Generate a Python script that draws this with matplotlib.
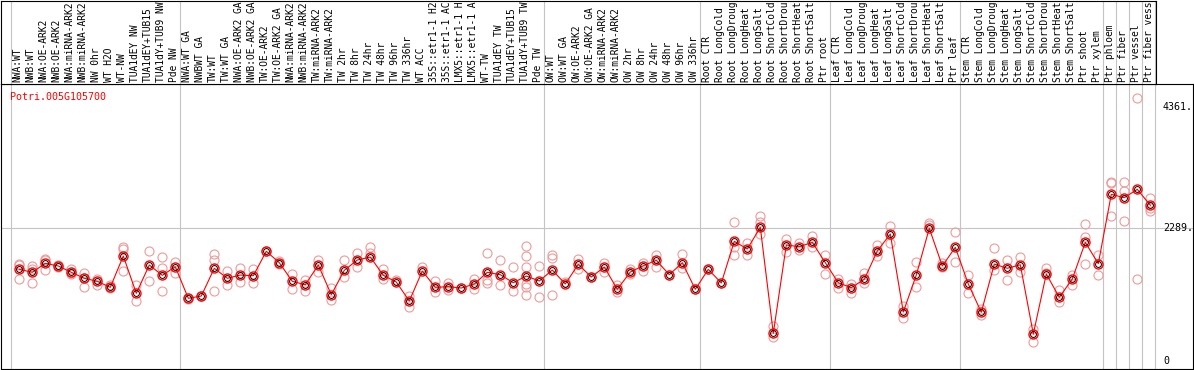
import matplotlib
matplotlib.use("Agg")
import matplotlib.pyplot as plt
from matplotlib import transforms

# column labels as the reference shows them (cut to 14 characters)
g_nw = ["NWA:WT", "NWB:WT", "NWA:OE-ARK2", "NWB:OE-ARK2", "NWA:miRNA-ARK2",
        "NWB:miRNA-ARK2", "NW 0hr", "WT H2O", "WT-NW", "TUA1dEY NW",
        "TUA1dEY+TUB15", "TUA1dY+TUB9 NW", "Pde NW"]
g_tw = ["NWA:WT GA", "NWBWT GA", "TW:WT", "TW:WT GA", "NWA:OE-ARK2 GA",
        "NWB:OE-ARK2 GA", "TW:OE-ARK2", "TW:OE-ARK2 GA", "NWA:miRNA-ARK2",
        "NWB:miRNA-ARK2", "TW:miRNA-ARK2", "TW:miRNA-ARK2", "TW 2hr",
        "TW 8hr", "TW 24hr", "TW 48hr", "TW 96hr", "TW 336hr", "WT ACC",
        "35S::etr1-1 H2", "35S::etr1-1 AC", "LMX5::etr1-1 H",
        "LMX5::etr1-1 A", "WT-TW", "TUA1dEY TW", "TUA1dEY+TUB15",
        "TUA1dY+TUB9 TW", "Pde TW"]
g_ow = ["OW:WT", "OW:WT GA", "OW:OE-ARK2", "OW:OE-ARK2 GA", "OW:miRNA-ARK2",
        "OW:miRNA-ARK2", "OW 2hr", "OW 8hr", "OW 24hr", "OW 48hr",
        "OW 96hr", "OW 336hr"]
stress = ["CTR", "LongCold", "LongDroug", "LongHeat", "LongSalt",
          "ShortCold", "ShortDrou", "ShortHeat", "ShortSalt"]
g_root = ["Root " + s for s in stress] + ["Ptr root"]
g_leaf = ["Leaf " + s for s in stress] + ["Ptr leaf"]
g_stem = ["Stem " + s for s in stress] + ["Ptr shoot", "Ptr xylem"]
g_ptr = ["Ptr phloem", "Ptr fiber", "Ptr vessel", "Ptr fiber vess"]
groups = [g_nw, g_tw, g_ow, g_root, g_leaf, g_stem] + [[x] for x in g_ptr]
labels = [lab for g in groups for lab in g]

gene = "Potri.005G105700"
tick_vals = [0, 2289, 4361]
tick_text = ["0", "2289.", "4361."]

means = [1575, 1524, 1678, 1632, 1524, 1421, 1369, 1266, 1804, 1163,
         1649, 1472, 1620,
         1077, 1117, 1593, 1421, 1477, 1465, 1885, 1689, 1369, 1311,
         1649, 1139, 1558, 1735, 1787, 1472, 1357, 1031, 1546, 1266,
         1277, 1254, 1323, 1524, 1483, 1345, 1460, 1374, 1563,
         1323, 1661, 1443, 1615, 1232, 1529, 1637, 1730, 1483, 1689,
         1232, 1575,
         1340, 2056, 1924, 2297, 476, 1993, 1964, 2039, 1689, 1345,
         1259, 1404, 1890, 2182, 842, 1477, 2280, 1632, 1953, 1323,
         837, 1666, 1593, 1654, 464, 1495, 1094, 1409, 2039, 1672,
         2864, 2806, 2950, 2675]

reps = [[1666, 1650, 1404], [1637, 1581, 1340], [1752, 1735, 1558],
        [1644, 1620], [1581, 1490, 1505], [1517, 1421, 1266],
        [1409, 1311], [1306, 1249], [1953, 1929, 1546], [1311, 1036],
        [1885, 1374], [1782, 1593, 1197], [1706, 1507],
        [1077, 1070], [1117, 1110], [1838, 1730, 1203], [1546, 1301],
        [1593, 1362], [1575, 1345], [1895], [1723, 1661],
        [1495, 1242], [1392, 1208], [1735, 1534], [1249, 1048],
        [1730, 1438], [1855, 1620], [1959, 1850], [1575, 1404],
        [1392], [1117, 923], [1620], [1380, 1191], [1345, 1220],
        [1254], [1409, 1232], [1855, 1392, 1335], [1730, 1306],
        [1615, 1203], [1976, 1804, 1620, 1318, 1276, 1134],
        [1632, 1094], [1816, 1775, 1129],
        [1357], [1757, 1575], [1443], [1689, 1534], [1300, 1185],
        [1575, 1495], [1678, 1551], [1816, 1620], [1483], [1838, 1603],
        [1232], [1575],
        [1340], [2383, 1964, 1816], [2022, 1826], [2491, 2388, 2182],
        [601, 407], [2096, 1867], [2030, 1900], [2147, 1964],
        [1821, 1495], [1414, 1249], [1318, 1163], [1507, 1335],
        [1993, 1804], [2319, 2032], [945, 744], [1696, 1271],
        [2366, 2337], [1678, 1610], [2211, 1701], [1477, 1163],
        [888, 795], [1941, 1563], [1735, 1392], [1792, 1534],
        [545, 332], [1593, 1517], [1220, 1008], [1477, 1306],
        [2354, 2135, 1672], [1826, 1477],
        [3080, 3053, 2491], [3080, 2921, 2405], [4513, 1404],
        [2795, 2634, 2582]]

W, H = 1194, 370
fig = plt.figure(figsize=(W / 100, H / 100), dpi=100)


def px_box(x0, y0, x1, y1):
    return [x0 / W, 1 - y1 / H, (x1 - x0) / W, (y1 - y0) / H]


# pixel layout of the reference
col_x0, col_w = 19.3, 13.0
zero_y, px_per_unit = 361.0, 0.0582
plot_l, plot_t, plot_r, plot_b = 1, 84, 1193, 369

ax = fig.add_axes(px_box(plot_l, plot_t, plot_r, plot_b))
hax = fig.add_axes(px_box(0.5, 0.5, 1156, plot_t))

ax.set_xlim((plot_l - col_x0) / col_w, (plot_r - col_x0) / col_w)
ax.set_ylim((zero_y - plot_b) / px_per_unit, (zero_y - plot_t) / px_per_unit)
for a in (ax, hax):
    a.set_xticks([])
    a.set_yticks([])
    for s in a.spines.values():
        s.set_color("black")
        s.set_linewidth(0.8)
hax.set_ylim(0, 1)

mono = "DejaVu Sans Mono"
grey = "#C4C4C4"
hdr = transforms.blended_transform_factory(ax.transData, hax.transAxes)

# group separators
bounds = [0]
for g in groups:
    bounds.append(bounds[-1] + len(g))
for b in bounds:
    ax.axvline(b - 0.66, color=grey, lw=0.8, zorder=0)
    hax.plot([b - 0.66, b - 0.66], [0, 1], color=grey, lw=0.8,
             transform=hdr, clip_on=False)

ax.axhline(tick_vals[1], color=grey, lw=0.8, zorder=0)

# rotated column labels
for i, lab in enumerate(labels):
    hax.text(i - 0.12, 0.02, lab, transform=hdr, rotation=90,
             ha="center", va="bottom", fontsize=6.9, family=mono)

# replicates
for i, r in enumerate(reps):
    ax.plot([i] * len(r), r, "o", ms=6.5, mfc="none", mec="#EE9A9A",
            mew=0.8, zorder=2)

x = list(range(len(means)))
ax.plot(x, means, color="red", lw=0.8, zorder=3)
ax.plot(x, means, "o", ms=6.5, mfc="none", mec="red", mew=1.0, zorder=4)
ax.plot(x, means, "o", ms=4.2, mfc="none", mec="black", mew=0.7, zorder=5)

ylab = transforms.blended_transform_factory(ax.transAxes, ax.transData)
for v, t in zip(tick_vals, tick_text):
    ax.text((1163 - plot_l) / (plot_r - plot_l), v, t, transform=ylab,
            ha="left", va="center", fontsize=7.2, family=mono)

ax.text((10 - plot_l) / (plot_r - plot_l), (plot_b - 97) / (plot_b - plot_t),
        gene, transform=ax.transAxes, ha="left", va="center",
        fontsize=7.2, family=mono, color="red")

fig.savefig("out.png", dpi=100)
